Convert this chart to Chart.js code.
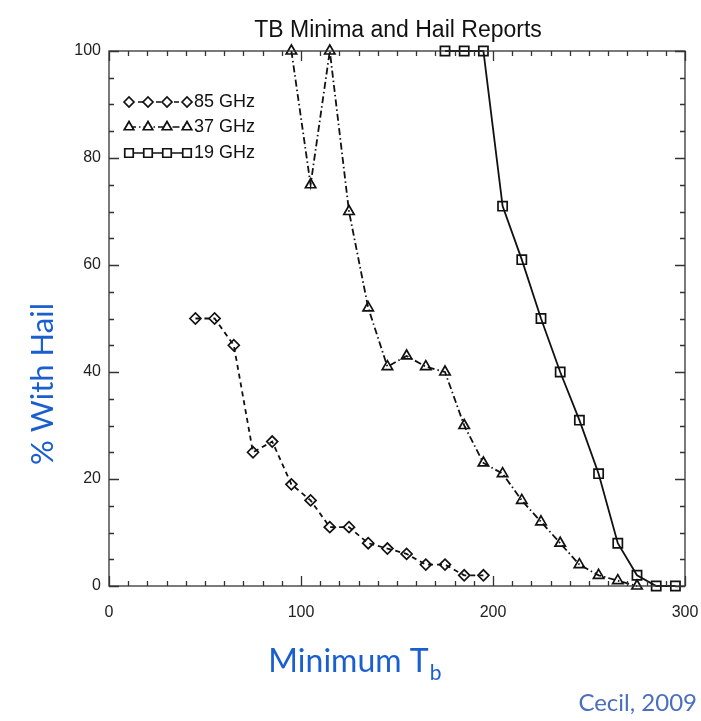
<!DOCTYPE html>
<html>
<head>
<meta charset="utf-8">
<script src="https://cdn.jsdelivr.net/npm/chart.js@4.4.1/dist/chart.umd.min.js"></script>
<style>
  html, body { margin: 0; padding: 0; background: #fff; }
  #wrap { width: 701px; height: 721px; position: relative; }
</style>
</head>
<body>
<div id="wrap"><canvas id="chart-hail"></canvas></div>
<script>
// du lieu doc tu hinh
const tb85 = [45, 55, 65, 75, 85, 95, 105, 115, 125, 135, 145, 155, 165, 175, 185, 195];
const hail85 = [50, 50, 45, 25, 27, 19, 16, 11, 11, 8, 7, 6, 4, 4, 2, 2];

const tb37 = [95, 105, 115, 125, 135, 145, 155, 165, 175, 185, 195, 205, 215, 225, 235, 245, 255, 265, 275];
const hail37 = [100, 75, 100, 70, 52, 41, 43, 41, 40, 30, 23, 21, 16, 12, 8, 4, 2, 1, 0];

const tb19 = [175, 185, 195, 205, 215, 225, 235, 245, 255, 265, 275, 285, 295];
const hail19 = [100, 100, 100, 71, 61, 50, 40, 31, 21, 8, 2, 0, 0];

const xTicks = [0, 100, 200, 300];
const yTicks = [0, 20, 40, 60, 80, 100];
const seriesNames = ['85 GHz', '37 GHz', '19 GHz'];

const toPoints = (xs, ys) => xs.map((x, i) => ({ x: x, y: ys[i] }));

const series = [
    { name: seriesNames[0], data: toPoints(tb85, hail85), style: 'rectRot', radius: 5.5, dash: [5, 4] },
    { name: seriesNames[1], data: toPoints(tb37, hail37), style: 'triangle', radius: 6, dash: [7, 3, 1.5, 3] },
    { name: seriesNames[2], data: toPoints(tb19, hail19), style: 'rect', radius: 6.5, dash: [] }
];

const INK = '#111';

// ve khung, vach chia, chu thich va cac tieu de
const framePlugin = {
    id: 'framePlugin',
    afterDraw(chart) {
        const ctx = chart.ctx;
        const a = chart.chartArea;
        const xs = chart.scales.x;
        const ys = chart.scales.y;
        ctx.save();
        ctx.strokeStyle = '#333';
        ctx.lineWidth = 1.3;
        ctx.setLineDash([]);
        ctx.strokeRect(a.left, a.top, a.right - a.left, a.bottom - a.top);

        ctx.beginPath();
        for (let v = 0; v <= 300; v += 10) {
            const px = Math.round(xs.getPixelForValue(v)) + 0.5;
            const len = v % 100 === 0 ? 10 : 5;
            ctx.moveTo(px, a.bottom); ctx.lineTo(px, a.bottom - len);
            ctx.moveTo(px, a.top); ctx.lineTo(px, a.top + len);
        }
        for (let v = 0; v <= 100; v += 5) {
            const py = Math.round(ys.getPixelForValue(v)) + 0.5;
            const len = v % 20 === 0 ? 10 : 5;
            ctx.moveTo(a.left, py); ctx.lineTo(a.left + len, py);
            ctx.moveTo(a.right, py); ctx.lineTo(a.right - len, py);
        }
        ctx.stroke();

        // chu thich
        ctx.font = '18px "Liberation Sans", Arial, sans-serif';
        ctx.textBaseline = 'middle';
        ctx.textAlign = 'left';
        const rows = [102, 127, 153];
        const mx = [129, 148, 167, 187];
        series.forEach((s, i) => {
            const y = rows[i];
            ctx.strokeStyle = INK;
            ctx.lineWidth = 1.7;
            ctx.setLineDash(s.dash);
            ctx.beginPath();
            ctx.moveTo(mx[0], y); ctx.lineTo(mx[3], y);
            ctx.stroke();
            ctx.setLineDash([]);
            mx.forEach(x => {
                ctx.fillStyle = '#fff';
                Chart.helpers.drawPoint(ctx, {
                    pointStyle: s.style, radius: s.radius - 0.5, rotation: 0, borderWidth: 1.7
                }, x, y);
            });
            ctx.fillStyle = INK;
            ctx.fillText(s.name, 194, y);
        });

        // tieu de
        ctx.textAlign = 'center';
        ctx.font = '23px "Liberation Sans", Arial, sans-serif';
        ctx.fillStyle = '#111';
        ctx.fillText('TB Minima and Hail Reports', 398, 31);

        // tieu de truc
        ctx.fillStyle = '#1a5fd0';
        ctx.font = '31px Lato, "Open Sans", sans-serif';
        ctx.save();
        ctx.translate(43, 384);
        ctx.rotate(-Math.PI / 2);
        ctx.fillText('% With Hail', 0, 0);
        ctx.restore();

        ctx.textAlign = 'left';
        ctx.font = '32px Lato, "Open Sans", sans-serif';
        const main = 'Minimum T';
        const w = ctx.measureText(main).width;
        const startX = 356 - (w + 15) / 2;
        ctx.fillText(main, startX, 662);
        ctx.font = '21px Lato, "Open Sans", sans-serif';
        ctx.fillText('b', startX + w + 1, 673);

        ctx.fillStyle = '#4a6fbf';
        ctx.font = '24px Lato, "Open Sans", sans-serif';
        ctx.textAlign = 'right';
        ctx.fillText('Cecil, 2009', 697, 703);
        ctx.restore();
    }
};

const ctx = document.getElementById('chart-hail');
new Chart(ctx, {
    type: 'line',
    data: {
        datasets: series.map(s => ({
            label: s.name,
            data: s.data,
            borderColor: INK,
            borderWidth: 1.8,
            borderDash: s.dash,
            backgroundColor: '#fff',
            pointStyle: s.style,
            pointRadius: s.radius,
            pointBorderWidth: 1.7,
            pointBorderColor: INK,
            pointBackgroundColor: 'rgba(255,255,255,0)',
            tension: 0,
            clip: false
        }))
    },
    plugins: [framePlugin],
    options: {
        responsive: true,
        maintainAspectRatio: false,
        animation: false,
        events: [],
        layout: { padding: { left: 0, top: 51, right: 16, bottom: 0 } },
        scales: {
            x: {
                type: 'linear',
                min: 0,
                max: 300,
                afterFit: scale => {
                    scale.height = 135;
                    scale.paddingLeft = 0;
                    scale.paddingRight = 0;
                },
                afterBuildTicks: scale => { scale.ticks = xTicks.map(v => ({ value: v })); },
                border: { display: false },
                grid: { display: false, drawTicks: false },
                ticks: {
                    padding: 17,
                    color: '#222',
                    font: { family: '"Liberation Sans", Arial, sans-serif', size: 16 },
                    maxRotation: 0
                }
            },
            y: {
                min: 0,
                max: 100,
                afterFit: scale => {
                    scale.width = 109;
                    scale.paddingTop = 0;
                    scale.paddingBottom = 0;
                },
                afterBuildTicks: scale => { scale.ticks = yTicks.map(v => ({ value: v })); },
                border: { display: false },
                grid: { display: false, drawTicks: false },
                ticks: {
                    padding: 8,
                    color: '#222',
                    font: { family: '"Liberation Sans", Arial, sans-serif', size: 16 }
                }
            }
        },
        plugins: {
            legend: { display: false },
            tooltip: { enabled: false },
            title: { display: false }
        }
    }
});
</script>
</body>
</html>
